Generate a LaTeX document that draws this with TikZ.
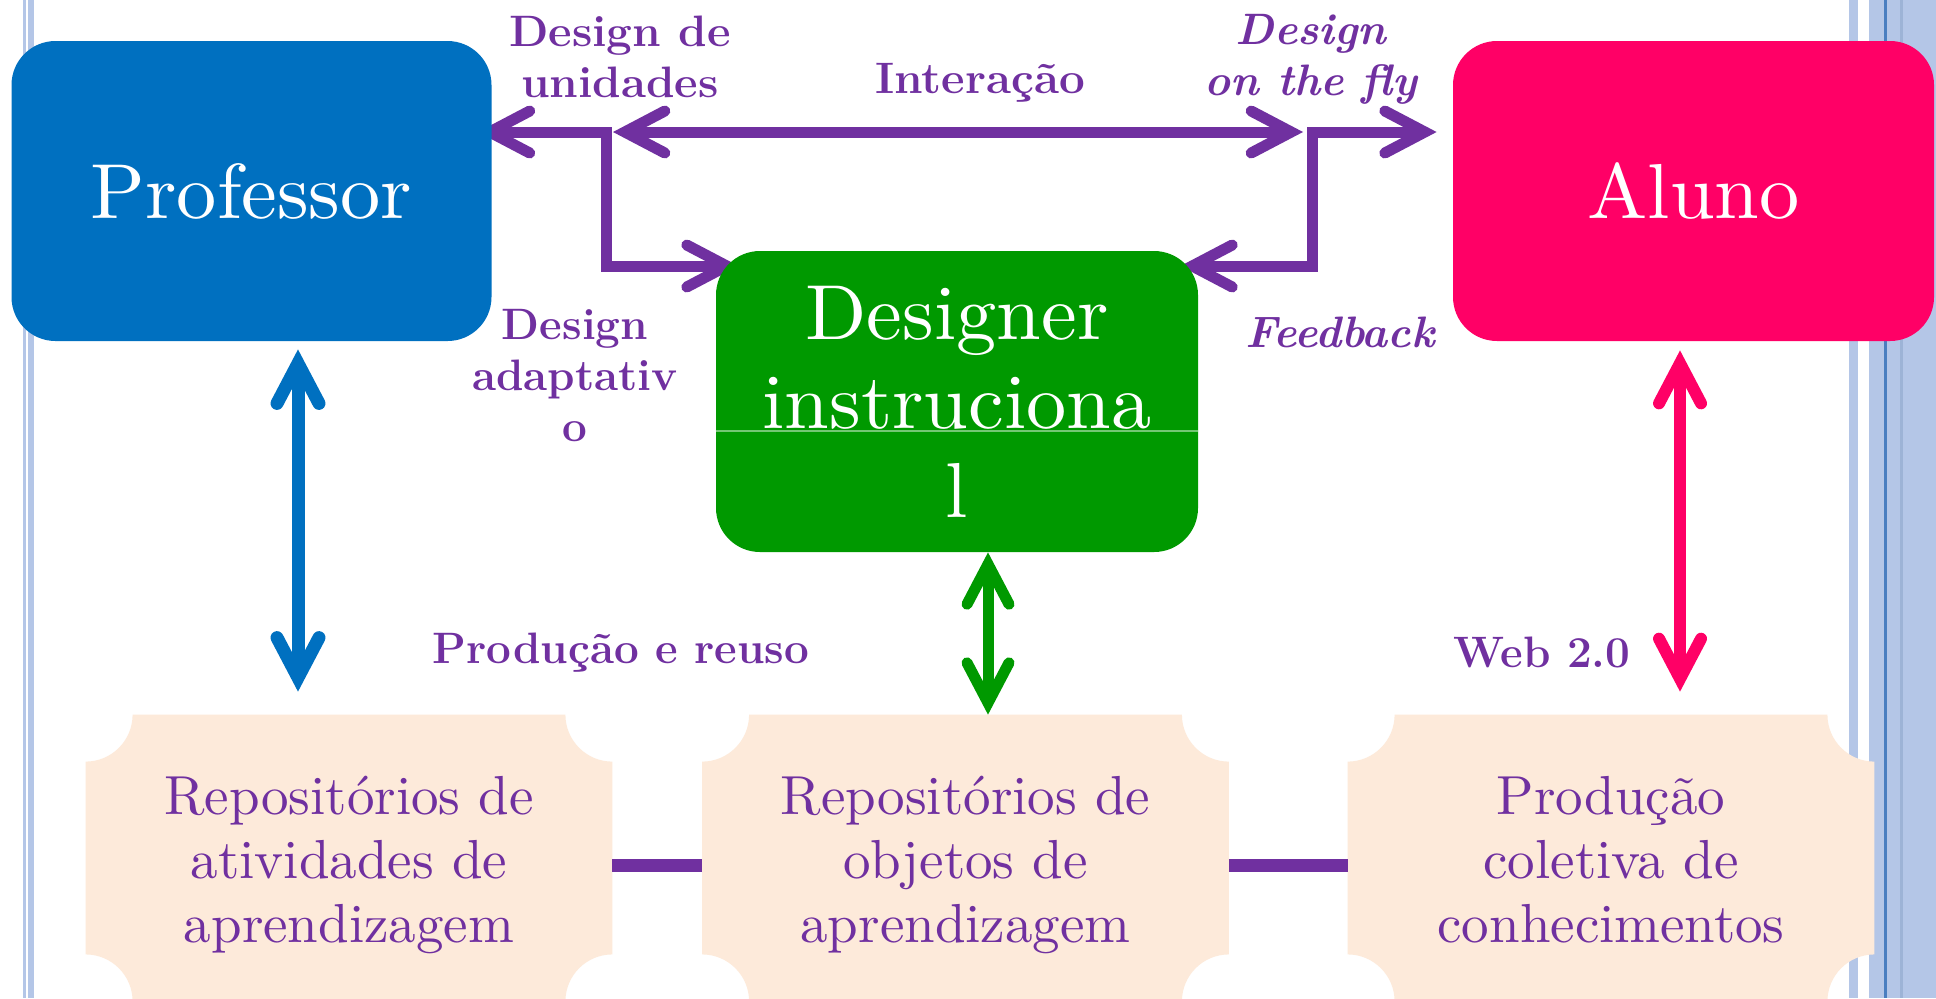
\documentclass[tikz,border=0pt]{standalone}
\usepackage{fontspec}
\newfontfamily\lmten{lmroman10-regular.otf}
\usetikzlibrary{arrows.meta,calc}
\definecolor{profblue}{HTML}{0070C0}
\definecolor{alupink}{HTML}{FF0066}
\definecolor{desgreen}{HTML}{009900}
\definecolor{purp}{HTML}{7030A0}
\definecolor{peach}{HTML}{FDEADA}
\definecolor{bordblue}{HTML}{B4C6E7}
\definecolor{bordline}{HTML}{4A7EC0}
\definecolor{bordmid}{HTML}{9DB3D6}
\pgfdeclarelayer{bg}
\pgfsetlayers{bg,main}
\newcommand\sxa[1]{\scalebox{1.03}[1]{#1}}
\newcommand\sxc[1]{\scalebox{1.04}[1]{#1}}
\newcommand\plaqueshape[1]{%
  \fill[peach] let \p1=(#1.north west), \p2=(#1.south east) in
  (\x1+23.5pt,\y1) -- (\x2-23.5pt,\y1) arc[start angle=180,end angle=270,radius=23.5pt]
  -- (\x2,\y2+23.5pt) arc[start angle=90,end angle=180,radius=23.5pt]
  -- (\x1+23.5pt,\y2) arc[start angle=0,end angle=90,radius=23.5pt]
  -- (\x1,\y1-23.5pt) arc[start angle=270,end angle=360,radius=23.5pt] -- cycle;}
\begin{document}
\begin{tikzpicture}[x=0.5pt,y=-0.5pt,
  bigbox/.style={rounded corners=22pt, minimum width=240pt, minimum height=150pt,
    inner sep=0pt, text=white, font=\lmten\fontsize{39}{44.5}\selectfont, align=center},
  plaque/.style={minimum width=263pt, minimum height=143pt, inner sep=0pt},
  ptext/.style={text=purp, inner sep=0pt, font=\lmten\fontsize{27.5}{32}\selectfont, align=center},
  lab/.style={text=purp, inner sep=0pt, font=\bfseries\fontsize{22}{25.5}\selectfont, align=center},
  labi/.style={lab, font=\bfseries\itshape\fontsize{22}{25.5}\selectfont},
  tipstyle/.style={>={Straight Barb[length=20pt,width=21pt,line cap=round,line join=miter]}},
  parrow/.style={tipstyle, draw=purp, line width=5.5pt, line join=miter, <->},
  varrow/.style={tipstyle, line join=miter, <->},
  pline/.style={draw=purp, line width=6.5pt}]
\useasboundingbox (0,0) rectangle (1936,998);
% main boxes
\node[bigbox, fill=profblue] (prof) at (251.5,191) {\sxa{Professor}};
\node[bigbox, fill=alupink, minimum width=240.5pt] (alu) at (1693.5,191) {\sxa{Aluno}};
\node[bigbox, fill=desgreen, minimum width=241pt, minimum height=150.5pt] (des) at (957,401.5) {\sxa{Designer}\\\sxa{instruciona}\\\sxa{l}};
\draw[desgreen!55!white, line width=0.6pt] ($(des.west)+(0,29.5)$) -- ($(des.east)+(0,29.5)$);
% bottom plaques
\node[plaque] (pl1) at (349,858) {};
\node[plaque] (pl2) at (965.5,858) {};
\node[plaque] (pl3) at (1611,858) {};
\node[ptext] (t1) at (349,865) {Repositórios de\\atividades de\\aprendizagem};
\node[ptext] (t2) at (965.5,865) {Repositórios de\\objetos de\\aprendizagem};
\node[ptext] (t3) at (1611,860) {Produção\\coletiva de\\conhecimentos};
% labels
\node[lab] (l1) at (620,57.25) {\sxc{Design de}\\\sxc{unidades}};
\node[lab, anchor=base] (l2) at (980,93) {\sxc{Interação}};
\node[labi] (l3) at (1311,59.25) {Design\\on the fly};
\node[lab] (l4) at (575,376) {Design\\adaptativ\\o};
\node[labi, anchor=base] (l5) at (1340,347) {Feedback};
\node[lab, anchor=base] (l6) at (621,663) {Produção e reuso};
\node[lab, anchor=base] (l7) at (1542,667) {Web 2.0};
% junctions
\coordinate (jLt) at (606,132);
\coordinate (jLb) at (606,266);
\coordinate (jRt) at (1312,132);
\coordinate (jRb) at (1312,266);
\begin{pgfonlayer}{bg}
  \fill[white] (0,0) rectangle (1936,998);
  \fill[bordblue] (23,0) rectangle (26,998);
  \fill[bordblue] (28,0) rectangle (34,998);
  \fill[bordblue] (1849,0) rectangle (1858,998);
  \fill[bordblue] (1869,0) rectangle (1936,998);
  \fill[bordmid] (1900,0) rectangle (1903,998);
  \fill[bordline] (1884,0) rectangle (1887,998);
  \plaqueshape{pl1}
  \plaqueshape{pl2}
  \plaqueshape{pl3}
  \draw[pline] (pl1.east |- t1.center) -- (pl2.west |- t1.center);
  \draw[pline] (pl2.east |- t2.center) -- (pl3.west |- t2.center);
  \draw[parrow, shorten <=3.5pt, shorten >=4.5pt] (jLt) -- (jRt);
  \draw[parrow] ($(prof.east|-jLt)+(-14,0)$) -- (jLt) -- (jLb) -- ($(des.west|-jLb)+(23,0)$);
  \draw[parrow] ($(alu.west|-jRt)+(-16,0)$) -- (jRt) -- (jRb) -- ($(des.east|-jRb)+(-18,0)$);
  \draw[varrow, draw=profblue, line width=6.5pt] ($(prof.south)+(46.5,8)$) -- ($(pl1.north)+(-51,-23)$);
  \draw[varrow, draw=desgreen, line width=5.5pt] ($(des.south)+(31,0)$) -- ($(pl2.north)+(22.5,0)$);
  \draw[varrow, draw=alupink, line width=6pt] ($(alu.south)+(-13.5,9)$) -- ($(pl3.north)+(69,-23)$);
\end{pgfonlayer}
\end{tikzpicture}
\end{document}
